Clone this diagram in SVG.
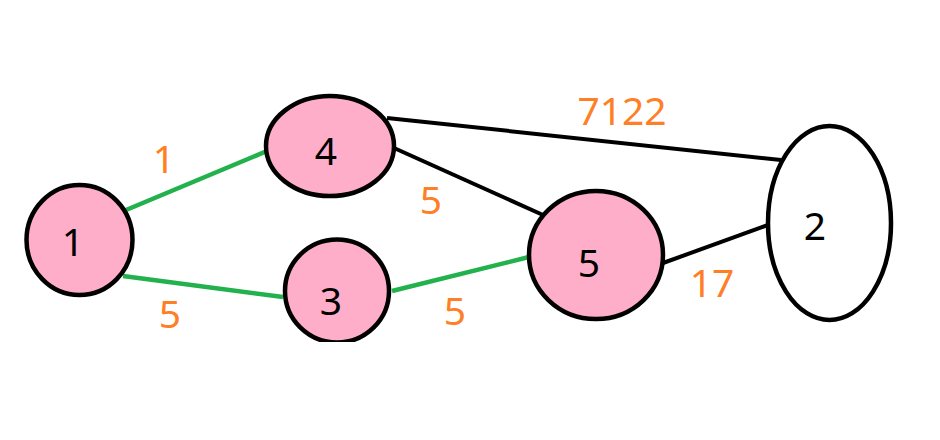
<svg xmlns="http://www.w3.org/2000/svg" width="940" height="440" viewBox="0 0 940 440">
<style>
.node{fill:#FFAEC9;stroke:#000;stroke-width:4.5}
.white{fill:#fff;stroke:#000;stroke-width:4.5}
.g{stroke:#22B14C;stroke-width:4.5;fill:none}
.b{stroke:#000;stroke-width:4;fill:none}
.t{font-family:"Noto Sans","DejaVu Sans",sans-serif;font-size:39px;text-anchor:middle;fill:#000}
.w{font-family:"Noto Sans","DejaVu Sans",sans-serif;font-size:39px;text-anchor:middle;fill:#FF7F27}
</style>
<defs>
<clipPath id="cut3"><rect x="270" y="220" width="140" height="122"/></clipPath>
</defs>
<rect width="940" height="440" fill="#fff"/>
<g id="connectors">
<line class="g" x1="126" y1="210" x2="267" y2="151"/>
<line class="g" x1="123" y1="276" x2="283" y2="297"/>
<line class="g" x1="392" y1="291" x2="529" y2="257"/>
<line class="b" x1="387" y1="118" x2="781" y2="160"/>
<line class="b" x1="394" y1="148" x2="543" y2="215"/>
<line class="b" x1="663" y1="263" x2="768" y2="225"/>
</g>
<g id="edge-labels">
<text class="w" x="164" y="173">1</text>
<text class="w" x="170" y="328">5</text>
<text class="w" x="431" y="214">5</text>
<text class="w" x="455" y="325">5</text>
<text class="w" x="622" y="125">7122</text>
<text class="w" x="712" y="297">17</text>
</g>
<g id="node1">
<ellipse class="node" cx="79.5" cy="240" rx="53" ry="55"/>
<text class="t" x="73" y="256">1</text>
</g>
<g id="node4">
<ellipse class="node" cx="330" cy="146" rx="64" ry="50"/>
<text class="t" x="326" y="165">4</text>
</g>
<g id="node3">
<ellipse class="node" cx="337" cy="291" rx="52" ry="51.5" clip-path="url(#cut3)"/>
<text class="t" x="331" y="315">3</text>
</g>
<g id="node5">
<ellipse class="node" cx="596" cy="255" rx="67" ry="64"/>
<text class="t" x="589" y="277">5</text>
</g>
<g id="node2">
<ellipse class="white" cx="829.5" cy="223" rx="61.5" ry="97"/>
<text class="t" x="815" y="240">2</text>
</g>
</svg>
